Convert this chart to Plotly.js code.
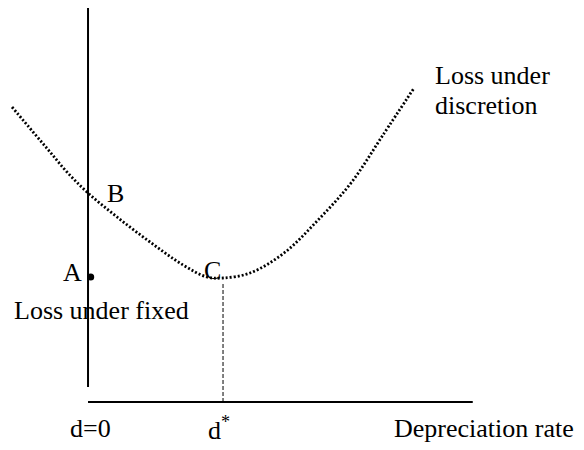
<!DOCTYPE html>
<html>
<head>
<meta charset="utf-8">
<script src="https://cdn.plot.ly/plotly-3.0.1.min.js"></script>
<style>
  html, body { margin: 0; padding: 0; background: #fff; }
  #chart { width: 584px; height: 450px; }
</style>
</head>
<body>
<div id="chart"></div>
<script>
// Depreciation rate (d* = 1) and loss
var discretionD = [-0.563, -0.407, -0.281, -0.156, 0, 0.215, 0.459, 0.704, 0.881, 1.0, 1.2, 1.452, 1.704, 1.948, 2.185, 2.415];
var discretionLoss = [2.95, 2.70, 2.50, 2.30, 2.09, 1.85, 1.60, 1.37, 1.25, 1.24, 1.29, 1.49, 1.82, 2.19, 2.67, 3.14];

// Loss under fixed: vertical line at d = 0
var fixedD = [0, 0];
var fixedLoss = [0.15, 3.94];

// Horizontal axis
var axisD = [0, 2.85];
var axisLoss = [0, 0];

// d* marker line
var starD = [1, 1];
var starLoss = [0, 1.19];

// Point A
var pointD = [0.02];
var pointLoss = [1.25];

var font = { family: "Liberation Serif, Times New Roman, serif", size: 26, color: "#000" };

var traces = [
  { x: discretionD, y: discretionLoss, mode: "lines", line: { color: "#000", width: 2.8, dash: "2px,2px", shape: "spline" } },
  { x: fixedD, y: fixedLoss, mode: "lines", line: { color: "#000", width: 2 } },
  { x: axisD, y: axisLoss, mode: "lines", line: { color: "#000", width: 2 } },
  { x: starD, y: starLoss, mode: "lines", line: { color: "#000", width: 1, dash: "4px,2px" } },
  { x: pointD, y: pointLoss, mode: "markers", marker: { color: "#000", size: 7 } }
];

function label(text, x, y, xanchor) {
  return { text: text, x: x, y: y, xref: "x", yref: "y", showarrow: false,
           xanchor: xanchor || "center", yanchor: "middle", font: font };
}

var layout = {
  width: 584,
  height: 450,
  margin: { l: 0, r: 0, t: 0, b: 0 },
  paper_bgcolor: "#fff",
  plot_bgcolor: "#fff",
  showlegend: false,
  xaxis: { visible: false, range: [-0.652, 3.674], fixedrange: true },
  yaxis: { visible: false, range: [-0.48, 4.02], fixedrange: true },
  annotations: [
    label("B", 0.2, 2.09),
    label("A", -0.115, 1.30),
    label("C", 0.92, 1.32),
    label("Loss under fixed", -0.56, 0.92, "left"),
    label("Loss under", 2.556, 3.27, "left"),
    label("discretion", 2.556, 2.97, "left"),
    label("d=0", 0.015, -0.265),
    label("d<sup>*</sup>", 0.97, -0.265),
    label("Depreciation rate", 2.93, -0.265)
  ]
};

Plotly.newPlot("chart", traces, layout, { displayModeBar: false, staticPlot: true });
</script>
</body>
</html>
